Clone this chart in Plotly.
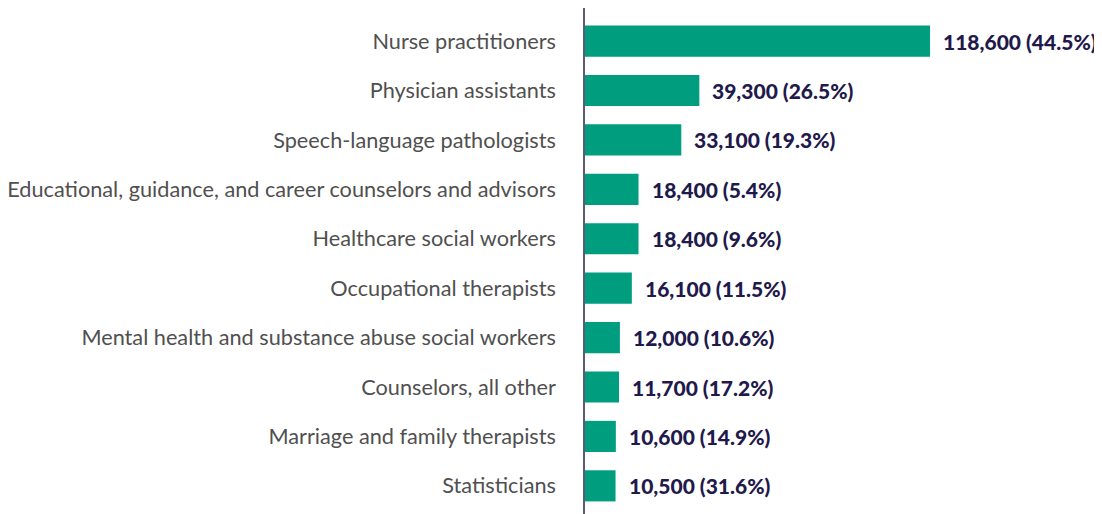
import plotly.graph_objects as go

occupations = [
    "Nurse practitioners",
    "Physician assistants",
    "Speech-language pathologists",
    "Educational, guidance, and career counselors and advisors",
    "Healthcare social workers",
    "Occupational therapists",
    "Mental health and substance abuse social workers",
    "Counselors, all other",
    "Marriage and family therapists",
    "Statisticians",
]
new_jobs = [118600, 39300, 33100, 18400, 18400, 16100, 12000, 11700, 10600, 10500]
growth_pct = [44.5, 26.5, 19.3, 5.4, 9.6, 11.5, 10.6, 17.2, 14.9, 31.6]

labels = [f"{v:,} ({p}%)" for v, p in zip(new_jobs, growth_pct)]

fig = go.Figure()
fig.add_trace(go.Bar(
    x=new_jobs,
    y=occupations,
    orientation="h",
    marker_color="#009e7e",
    marker_line_width=0,
    hoverinfo="skip",
))

# value labels to the right of each bar
for occ, v, lab in zip(occupations, new_jobs, labels):
    fig.add_annotation(
        x=v, y=occ, text=lab,
        xanchor="left", yanchor="middle",
        xshift=11, showarrow=False,
        font=dict(family="Lato", size=21, color="#1f1a4b", weight=900),
    )

# page body adds an 8px margin, so the figure is a bit smaller than the window
fig.update_layout(
    width=1094,
    height=506,
    margin=dict(l=577, r=0, t=0, b=0),
    paper_bgcolor="white",
    plot_bgcolor="white",
    bargap=0.37,
    showlegend=False,
    font=dict(family="Lato", size=21.7, color="#505050"),
    xaxis=dict(
        range=[0, 177700],
        visible=False,
        fixedrange=True,
        automargin=False,
    ),
    yaxis=dict(
        type="category",
        categoryorder="array",
        categoryarray=occupations,
        range=[9.57, -0.67],
        showline=True,
        linecolor="#5d5a78",
        linewidth=1.5,
        ticks="outside",
        ticklen=23,
        tickcolor="rgba(0,0,0,0)",
        showgrid=False,
        fixedrange=True,
        automargin=False,
    ),
)

fig.write_html("out.html")
